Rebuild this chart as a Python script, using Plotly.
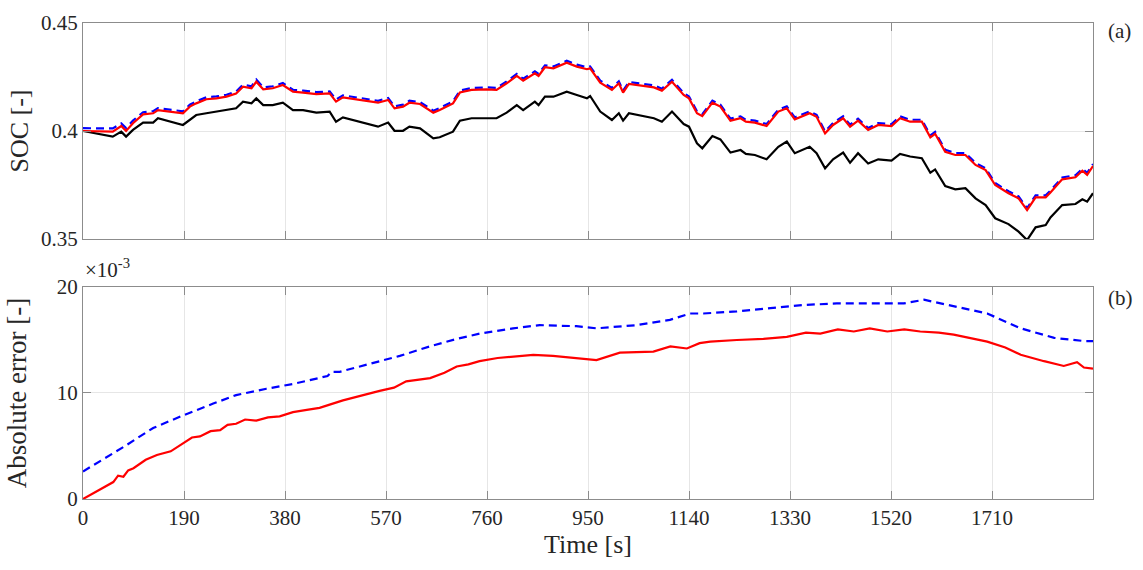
import plotly.graph_objects as go

# ---------------- data ----------------
time_soc = [0, 56, 72, 81, 94, 113, 132, 141, 188, 201, 213, 232, 251, 270, 288, 301, 317, 326, 339, 357,
            376, 395, 414, 439, 464, 476, 489, 555, 574, 586, 602, 614, 634, 659, 671, 696, 709, 731, 759, 778,
            797, 816, 828, 850, 857, 869, 885, 910, 929, 948, 954, 973, 995, 1008, 1016, 1027, 1074, 1089, 1108, 1130,
            1140, 1155, 1165, 1184, 1199, 1218, 1237, 1247, 1264, 1286, 1308, 1324, 1339, 1367, 1380, 1396, 1411, 1430, 1443, 1458,
            1477, 1496, 1521, 1537, 1556, 1578, 1594, 1603, 1622, 1641, 1660, 1679, 1698, 1716, 1741, 1760, 1776, 1792, 1811, 1820,
            1842, 1867, 1880, 1889, 1900]

soc_true = [0.4000, 0.3974, 0.3997, 0.3974, 0.4005, 0.4039, 0.4039, 0.4059, 0.4028, 0.4051, 0.4074, 0.4082, 0.4090, 0.4097, 0.4105, 0.4136, 0.4128, 0.4151, 0.4120, 0.4120,
            0.4131, 0.4097, 0.4097, 0.4085, 0.4090, 0.4043, 0.4063, 0.4020, 0.4039, 0.4001, 0.4001, 0.4020, 0.4012, 0.3966, 0.3971, 0.3997, 0.4048, 0.4059, 0.4059, 0.4059,
            0.4085, 0.4120, 0.4097, 0.4136, 0.4120, 0.4159, 0.4159, 0.4182, 0.4167, 0.4151, 0.4162, 0.4090, 0.4051, 0.4082, 0.4048, 0.4082, 0.4059, 0.4043, 0.4090, 0.4032,
            0.4020, 0.3943, 0.3920, 0.3977, 0.3961, 0.3900, 0.3912, 0.3894, 0.3889, 0.3869, 0.3927, 0.3951, 0.3897, 0.3927, 0.3897, 0.3827, 0.3869, 0.3900, 0.3853, 0.3897,
            0.3850, 0.3869, 0.3863, 0.3894, 0.3882, 0.3874, 0.3807, 0.3822, 0.3745, 0.3730, 0.3735, 0.3688, 0.3657, 0.3596, 0.3569, 0.3534, 0.3495, 0.3554, 0.3565, 0.3600,
            0.3657, 0.3662, 0.3684, 0.3673, 0.3712]

soc_est_red = [0.4000, 0.3997, 0.4023, 0.4000, 0.4036, 0.4077, 0.4082, 0.4097, 0.4082, 0.4113, 0.4128, 0.4147, 0.4151, 0.4159, 0.4174, 0.4205, 0.4198, 0.4228, 0.4193, 0.4198,
               0.4213, 0.4182, 0.4178, 0.4171, 0.4174, 0.4136, 0.4156, 0.4131, 0.4144, 0.4105, 0.4113, 0.4131, 0.4125, 0.4085, 0.4097, 0.4128, 0.4178, 0.4190, 0.4193, 0.4190,
               0.4221, 0.4255, 0.4233, 0.4267, 0.4255, 0.4295, 0.4290, 0.4316, 0.4298, 0.4286, 0.4290, 0.4224, 0.4190, 0.4221, 0.4178, 0.4218, 0.4202, 0.4187, 0.4228, 0.4167,
               0.4151, 0.4082, 0.4069, 0.4131, 0.4113, 0.4048, 0.4059, 0.4043, 0.4039, 0.4023, 0.4090, 0.4105, 0.4054, 0.4082, 0.4066, 0.3989, 0.4028, 0.4059, 0.4020, 0.4048,
               0.4005, 0.4028, 0.4023, 0.4059, 0.4043, 0.4043, 0.3971, 0.3987, 0.3904, 0.3889, 0.3889, 0.3843, 0.3819, 0.3750, 0.3712, 0.3688, 0.3634, 0.3693, 0.3693, 0.3715,
               0.3776, 0.3786, 0.3816, 0.3797, 0.3838]

soc_est_blue = [0.4013, 0.4012, 0.4035, 0.4014, 0.4048, 0.4087, 0.4092, 0.4106, 0.4091, 0.4122, 0.4137, 0.4156, 0.4160, 0.4168, 0.4183, 0.4214, 0.4207, 0.4238, 0.4202, 0.4207,
                0.4222, 0.4191, 0.4187, 0.4180, 0.4183, 0.4146, 0.4165, 0.4140, 0.4153, 0.4114, 0.4122, 0.4140, 0.4134, 0.4094, 0.4106, 0.4137, 0.4187, 0.4199, 0.4202, 0.4199,
                0.4230, 0.4264, 0.4242, 0.4276, 0.4264, 0.4304, 0.4299, 0.4325, 0.4307, 0.4295, 0.4299, 0.4233, 0.4199, 0.4230, 0.4187, 0.4227, 0.4211, 0.4196, 0.4237, 0.4176,
                0.4160, 0.4091, 0.4078, 0.4140, 0.4122, 0.4057, 0.4068, 0.4052, 0.4048, 0.4032, 0.4099, 0.4114, 0.4063, 0.4091, 0.4075, 0.3998, 0.4037, 0.4068, 0.4029, 0.4057,
                0.4014, 0.4037, 0.4032, 0.4068, 0.4052, 0.4052, 0.3980, 0.3996, 0.3913, 0.3898, 0.3898, 0.3852, 0.3828, 0.3759, 0.3721, 0.3697, 0.3643, 0.3702, 0.3702, 0.3724,
                0.3785, 0.3795, 0.3825, 0.3806, 0.3847]

time_err_red = [0, 57, 66, 76, 85, 95, 118, 139, 165, 189, 205, 220, 240, 258, 272, 288, 305, 326, 348, 370, 395, 421, 445, 464, 489,
                558, 585, 608, 653, 680, 703, 725, 746, 780, 809, 847, 884, 928, 966, 1010, 1073, 1105, 1136, 1160, 1180, 1230, 1280,
                1324, 1360, 1387, 1420, 1450, 1480, 1513, 1545, 1575, 1610, 1638, 1670, 1701, 1735, 1764, 1808, 1845, 1870, 1883, 1900]
err_red = [0, 1.6, 2.2, 2.1, 2.7, 2.9, 3.7, 4.15, 4.5, 5.3, 5.8, 5.9, 6.4, 6.5, 7.0, 7.1, 7.5, 7.4, 7.7, 7.8, 8.2, 8.4, 8.6, 8.9, 9.3,
           10.2, 10.5, 11.1, 11.4, 11.9, 12.5, 12.7, 13.0, 13.3, 13.4, 13.6, 13.5, 13.3, 13.1, 13.8, 13.9, 14.4, 14.2, 14.7, 14.85, 15.0, 15.1,
           15.3, 15.7, 15.6, 16.0, 15.8, 16.1, 15.8, 16.0, 15.8, 15.7, 15.5, 15.2, 14.85, 14.3, 13.6, 13.0, 12.55, 12.9, 12.4, 12.3]

time_err_blue = [0, 76, 132, 189, 245, 288, 345, 395, 460, 468, 483, 546, 596, 653, 703, 746, 809, 859, 928, 966,
                 1041, 1104, 1142, 1167, 1230, 1293, 1355, 1418, 1481, 1544, 1582, 1638, 1701, 1764, 1827, 1883, 1900]
err_blue = [2.6, 4.9, 6.7, 7.9, 9.0, 9.8, 10.4, 10.85, 11.6, 12.0, 12.0, 12.8, 13.5, 14.4, 15.1, 15.6, 16.1, 16.4, 16.3, 16.1,
            16.4, 16.9, 17.5, 17.5, 17.7, 18.0, 18.3, 18.45, 18.45, 18.45, 18.8, 18.2, 17.5, 16.1, 15.2, 14.9, 14.9]

x_ticks = [0, 190, 380, 570, 760, 950, 1140, 1330, 1520, 1710]
soc_ticks = [0.35, 0.4, 0.45]
soc_tick_text = ["0.35", "0.4", "0.45"]
err_ticks = [0, 10, 20]

# ---------------- figure ----------------
FONT = "Liberation Serif"
TXT = "#262626"
AX = "#8c8c8c"
W, H = 1143, 570
ML, MR, MT, MB = 83, 50, 23, 71

fig = go.Figure()

fig.add_trace(go.Scatter(x=time_soc, y=soc_true, mode="lines", line=dict(color="black", width=2.2),
                         xaxis="x", yaxis="y", showlegend=False))
fig.add_trace(go.Scatter(x=time_soc, y=soc_est_blue, mode="lines", line=dict(color="#0000ff", width=2.2, dash="8px,5px"),
                         xaxis="x", yaxis="y", showlegend=False))
fig.add_trace(go.Scatter(x=time_soc, y=soc_est_red, mode="lines", line=dict(color="#ff0000", width=2.2),
                         xaxis="x", yaxis="y", showlegend=False))

fig.add_trace(go.Scatter(x=time_err_blue, y=err_blue, mode="lines", line=dict(color="#0000ff", width=2.2, dash="8px,5px"),
                         xaxis="x2", yaxis="y2", showlegend=False))
fig.add_trace(go.Scatter(x=time_err_red, y=err_red, mode="lines", line=dict(color="#ff0000", width=2.2),
                         xaxis="x2", yaxis="y2", showlegend=False))

common_axis = dict(showline=True, linecolor=AX, linewidth=1, mirror="ticks", ticks="inside", ticklen=8,
                   tickcolor=AX, showgrid=True, gridcolor="#e6e6e6", gridwidth=1, zeroline=False,
                   automargin=False, tickfont=dict(family=FONT, size=21, color=TXT))

fig.update_layout(
    width=W, height=H,
    margin=dict(l=ML, r=MR, t=MT, b=MB, autoexpand=False),
    paper_bgcolor="white", plot_bgcolor="white",
    font=dict(family=FONT, color=TXT),
    xaxis=dict(domain=[0, 1], range=[0, 1900], tickvals=x_ticks, showticklabels=False, anchor="y", **common_axis),
    yaxis=dict(domain=[0.5462, 1], range=[0.35, 0.45], tickvals=soc_ticks, ticktext=soc_tick_text, anchor="x",
               title=dict(text="SOC [-]", font=dict(family=FONT, size=26, color=TXT), standoff=4), **common_axis),
    xaxis2=dict(domain=[0, 1], range=[0, 1900], tickvals=x_ticks, anchor="y2",
                title=dict(text="Time [s]", font=dict(family=FONT, size=26, color=TXT), standoff=4), **common_axis),
    yaxis2=dict(domain=[0, 0.4454], range=[0, 20], tickvals=err_ticks, anchor="x2",
                title=dict(text="Absolute error [-]", font=dict(family=FONT, size=27, color=TXT), standoff=22), **common_axis),
)

plot_w = W - ML - MR
plot_h = H - MT - MB


def px_to_paper(px, py):
    return (px - ML) / plot_w, (H - MB - py) / plot_h


ax_, ay_ = px_to_paper(1106, 31)
bx_, by_ = px_to_paper(1106, 298)
sx_, sy_ = px_to_paper(83, 268)
fig.add_annotation(text="(a)", x=ax_, y=ay_, xref="paper", yref="paper", showarrow=False, xanchor="left",
                   yanchor="middle", font=dict(family=FONT, size=21, color=TXT))
fig.add_annotation(text="(b)", x=bx_, y=by_, xref="paper", yref="paper", showarrow=False, xanchor="left",
                   yanchor="middle", font=dict(family=FONT, size=21, color=TXT))
fig.add_annotation(text="×10<sup>-3</sup>", x=sx_, y=sy_, xref="paper", yref="paper", showarrow=False, xanchor="left",
                   yanchor="middle", font=dict(family=FONT, size=21, color=TXT))

fig.write_html("out.html", config={"displayModeBar": False},
               post_script="document.body.style.margin='0';document.body.style.padding='0';")
